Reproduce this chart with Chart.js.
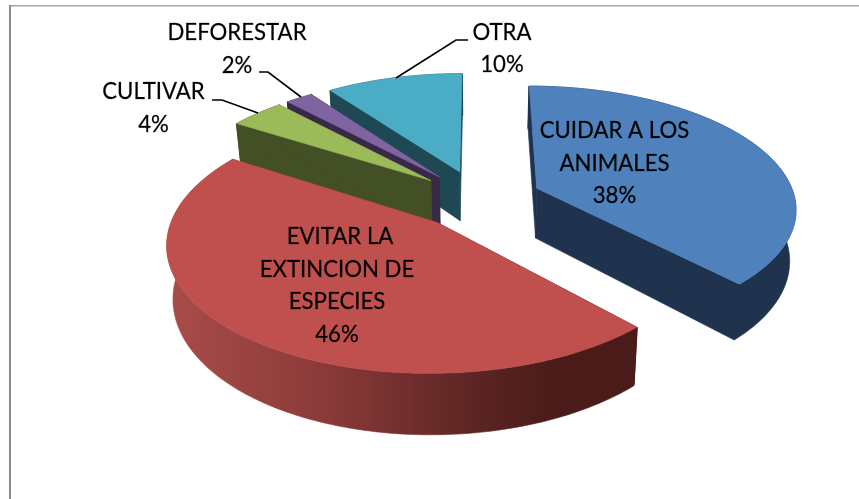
<!DOCTYPE html>
<html><head><meta charset="utf-8">
<style>html,body{margin:0;padding:0;background:#fff}canvas{display:block}</style>
<script src="https://cdn.jsdelivr.net/npm/chart.js@4"></script>
</head><body><canvas id="c" width="859" height="499"></canvas>
<script>
const categories = ["CUIDAR A LOS ANIMALES","EVITAR LA EXTINCION DE ESPECIES","CULTIVAR","DEFORESTAR","OTRA"];
const values = [38,46,4,2,10];
const topColors = ["#4F81BD","#C0504D","#9BBB59","#8064A2","#4BACC6"];
const wallColors = ["#1F334F","#8A3A38","#434F24","#362A47","#1D4854"];
const labelLines = [["CUIDAR A LOS","ANIMALES"],["EVITAR LA","EXTINCION DE","ESPECIES"],["CULTIVAR"],["DEFORESTAR"],["OTRA"]];
const drawOrder = [4,3,2,0,1];

// perspective of the tilted pie plane
const P = {c:478.6, y0:199, R:258.5, H:120.5, k:0.15, explode:0.245, depth:50.5, shrink:0.98};
const LBL = [
 {x:614.5,y:131,lh:32.5,dx:[0,0,0]},
 {x:337,y:237,lh:32.5,dx:[3,0,0,0]},
 {x:153.5,y:92,lh:33,dx:[0,0]},
 {x:237,y:32.5,lh:33,dx:[0,0]},
 {x:502,y:33,lh:32,dx:[0,0]}
];
const LEAD = [null,null,[[212,100],[222,100],[258,113]],[[259,72],[268,72],[301,97]],[[396,78],[456,40],[468,40]]];

function proj(u,v,bottom){
  const w=1+P.k*v;
  let x=P.c+P.R*u/w, y=P.y0-P.H*v/w;
  if(bottom){x=P.c+(x-P.c)*P.shrink; y+=P.depth/w;}
  return [x,y];
}
function polyFill(ctx,pts,fill,seal){
  ctx.beginPath();
  pts.forEach((p,i)=>i?ctx.lineTo(p[0],p[1]):ctx.moveTo(p[0],p[1]));
  ctx.closePath();
  ctx.fillStyle=fill;ctx.fill();
  if(seal){ctx.strokeStyle=fill;ctx.lineWidth=0.6;ctx.lineJoin='round';ctx.stroke();}
}
function seam(ctx,a,b,col){
  ctx.beginPath();ctx.moveTo(a[0],a[1]);ctx.lineTo(b[0],b[1]);
  ctx.strokeStyle=col;ctx.lineWidth=1.6;ctx.lineCap='butt';ctx.stroke();
}
const pie3d={
  id:'pie3d',
  beforeDraw(chart){
    const ctx=chart.ctx;
    ctx.save();
    ctx.fillStyle='#fff';ctx.fillRect(0,0,859,499);
    ctx.fillStyle='#A6A6A6';ctx.fillRect(9,5,850,1.5);
    ctx.fillStyle='#8C8C8C';ctx.fillRect(9,5,2,494);
    ctx.restore();
  },
  beforeDatasetsDraw(chart){
    const ctx=chart.ctx, arcs=chart.getDatasetMeta(0).data;
    ctx.save();
    const redGrad=ctx.createLinearGradient(170,0,560,0);
    redGrad.addColorStop(0,'#A84C49');redGrad.addColorStop(0.4,'#8A3A38');
    redGrad.addColorStop(0.8,'#5A2422');redGrad.addColorStop(1,'#4A1B19');
    drawOrder.forEach(i=>{
      const a=arcs[i];
      const s=a.startAngle+Math.PI/2, e=a.endAngle+Math.PI/2, m=(s+e)/2;
      const ou=P.explode*Math.sin(m), ov=P.explode*Math.cos(m);
      const n=Math.max(4,Math.round((e-s)*60));
      const top=[],bot=[];
      for(let j=0;j<=n;j++){
        const t=s+(e-s)*j/n, u=ou+Math.sin(t), v=ov+Math.cos(t);
        top.push(proj(u,v,false));bot.push(proj(u,v,true));
      }
      const at=proj(ou,ov,false), ab=proj(ou,ov,true);
      const wall=i===1?redGrad:wallColors[i];
      polyFill(ctx,[at,top[0],bot[0],ab],wall,true);
      polyFill(ctx,[at,top[n],bot[n],ab],wall,true);
      polyFill(ctx,top.concat(bot.slice().reverse()),wall,true);
      seam(ctx,top[0],[bot[0][0],bot[0][1]-1],wall);
      seam(ctx,top[n],[bot[n][0],bot[n][1]-1],wall);
      polyFill(ctx,[at].concat(top),a.options.backgroundColor,true);
    });
    ctx.restore();
    return false;
  },
  afterDraw(chart){
    const ctx=chart.ctx, total=values.reduce((p,q)=>p+q,0);
    ctx.save();
    ctx.strokeStyle='#000';ctx.lineWidth=1.6;
    LEAD.forEach(l=>{
      if(!l)return;
      ctx.beginPath();
      l.forEach((p,i)=>i?ctx.lineTo(p[0],p[1]):ctx.moveTo(p[0],p[1]));
      ctx.stroke();
    });
    ctx.fillStyle='#000';ctx.font='22.2px Lato';ctx.textAlign='center';ctx.textBaseline='middle';
    ctx.strokeStyle='rgba(0,0,0,0.55)';ctx.lineWidth=0.35;
    labelLines.forEach((lines,i)=>{
      const b=LBL[i], all=lines.concat([Math.round(values[i]/total*100)+'%']);
      all.forEach((t,j)=>{const x=b.x+b.dx[j],y=b.y+j*b.lh;ctx.fillText(t,x,y);ctx.strokeText(t,x,y);});
    });
    ctx.restore();
  }
};
new Chart(document.getElementById('c'),{
  type:'pie',
  data:{labels:categories,datasets:[{data:values,backgroundColor:topColors,borderWidth:0}]},
  options:{responsive:false,animation:false,plugins:{legend:{display:false},tooltip:{enabled:false}},layout:{padding:0}},
  plugins:[pie3d]
});
</script></body></html>
